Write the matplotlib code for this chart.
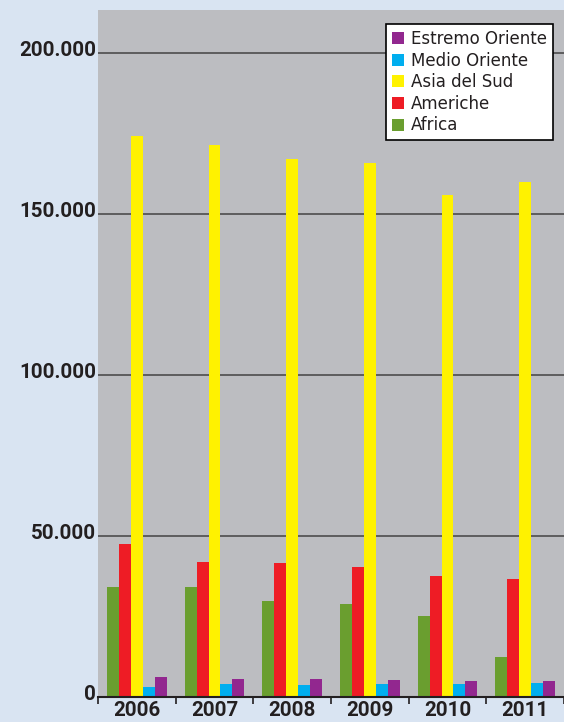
import matplotlib
matplotlib.use("Agg")
import matplotlib.pyplot as plt
import matplotlib.transforms as mtransforms
import numpy as np

# data
years = ["2006", "2007", "2008", "2009", "2010", "2011"]
africa = [34200, 34200, 29900, 28900, 25200, 12400]
americhe = [47600, 42000, 41700, 40400, 37600, 36700]
asia_sud = [174200, 171400, 167300, 166100, 156100, 160200]
medio_oriente = [3100, 4000, 3700, 4000, 4000, 4400]
estremo_oriente = [6200, 5600, 5600, 5300, 5000, 5000]

series = [africa, americhe, asia_sud, medio_oriente, estremo_oriente]
names = ["Africa", "Americhe", "Asia del Sud", "Medio Oriente", "Estremo Oriente"]
colors = ["#6A9E2F", "#EE1C25", "#FFF200", "#00AEEF", "#92278F"]

fig = plt.figure(figsize=(5.64, 7.22), dpi=100)
fig.patch.set_facecolor("#D9E4F2")
ax = fig.add_axes([98 / 564, 25 / 722, 466 / 564, 687 / 722])
ax.set_facecolor("#BCBDC1")

x = np.arange(len(years))
w = 0.154
handles = []
for i, (vals, c) in enumerate(zip(series, colors)):
    b = ax.bar(x + (i - 2) * w, vals, w, color=c, zorder=3)
    handles.append(b)

ax.set_xlim(-0.5, 5.47)
ax.set_ylim(0, 213500)
ax.set_yticks([0, 50000, 100000, 150000, 200000])
ax.set_yticklabels(["0", "50.000", "100.000", "150.000", "200.000"])
ax.yaxis.grid(True, color="#4D4D4D", linewidth=1.2, zorder=1)
ax.tick_params(axis="y", length=0, pad=1.5)
shift = mtransforms.ScaledTranslation(0, 5 / 100, fig.dpi_scale_trans)
for t in ax.get_yticklabels():
    t.set_fontfamily("Roboto")
    t.set_fontweight("bold")
    t.set_fontsize(14.8)
    t.set_color("#231F20")
    t.set_transform(t.get_transform() + shift)

ax.set_xticks(x)
ax.set_xticklabels(years, fontsize=14.8, fontweight="bold", color="#231F20",
                   family="Roboto")
ax.set_xticks(np.arange(-0.5, 6, 1), minor=True)
ax.tick_params(axis="x", which="major", length=0, pad=3)
ax.tick_params(axis="x", which="minor", length=5, width=1.2, color="#231F20", direction="out")

for s in ["top", "right", "left"]:
    ax.spines[s].set_visible(False)
ax.spines["bottom"].set_color("#231F20")
ax.spines["bottom"].set_linewidth(1.5)
ax.spines["bottom"].set_zorder(4)

leg = ax.legend(handles[::-1], names[::-1], loc="upper right",
                bbox_to_anchor=(455 / 466, 673 / 687), frameon=True,
                fancybox=False, fontsize=12, handlelength=0.72, handleheight=0.72,
                handletextpad=0.45, labelspacing=0.22, borderpad=0.35,
                borderaxespad=0)
leg.get_frame().set_edgecolor("black")
leg.get_frame().set_linewidth(1.2)
leg.get_frame().set_facecolor("white")
leg.get_frame().set_alpha(1)
leg.set_zorder(5)
for t in leg.get_texts():
    t.set_color("#231F20")

fig.savefig("out.png", dpi=100, facecolor=fig.get_facecolor())
